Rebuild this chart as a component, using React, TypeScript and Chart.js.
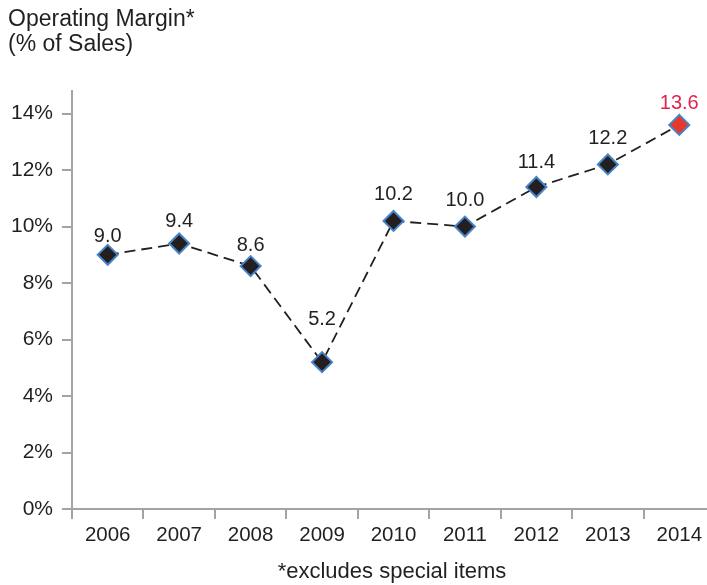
import React, { useEffect, useRef } from "react";
import { Chart, registerables } from "chart.js";

Chart.register(...registerables);

const years = ["2006", "2007", "2008", "2009", "2010", "2011", "2012", "2013", "2014"];
const margins = [9.0, 9.4, 8.6, 5.2, 10.2, 10.0, 11.4, 12.2, 13.6];
const yTicks = [0, 2, 4, 6, 8, 10, 12, 14];
const titleLines = ["Operating Margin*", "(% of Sales)"];
const footnote = "*excludes special items";

// label vertical offsets above each marker (style)
const labelOffsets = [20, 23.5, 22, 44.5, 28, 28, 26, 28, 23.5];

const DARK = "#231f20";
const AXIS = "#a3a3a3";
const BLUE = "#4684c6";
const RED_FILL = "#e8382b";
const RED_TEXT = "#e5224a";
const FONT = "'Liberation Sans', Arial, Helvetica, sans-serif";

export default function App() {
  const ref = useRef<HTMLCanvasElement | null>(null);

  useEffect(() => {
    document.body.style.margin = "0";
    document.body.style.overflow = "hidden";
    const canvas = ref.current;
    if (!canvas) return;
    const last = margins.length - 1;

    const textPlugin = {
      id: "texts",
      afterDatasetsDraw(chart: any) {
        const ctx = chart.ctx;
        ctx.save();
        ctx.fillStyle = DARK;
        ctx.font = `23px ${FONT}`;
        ctx.textAlign = "left";
        ctx.textBaseline = "alphabetic";
        ctx.fillText(titleLines[0], 8, 26);
        ctx.fillText(titleLines[1], 8, 51);
        ctx.font = `22px ${FONT}`;
        ctx.textAlign = "center";
        ctx.textBaseline = "middle";
        ctx.fillText(footnote, 392, 572);
        ctx.font = `20px ${FONT}`;
        ctx.textBaseline = "alphabetic";
        const meta = chart.getDatasetMeta(0);
        meta.data.forEach((pt: any, i: number) => {
          ctx.fillStyle = i === last ? RED_TEXT : DARK;
          ctx.fillText(margins[i].toFixed(1), pt.x, pt.y - labelOffsets[i] + 7.2);
        });
        ctx.restore();
      },
    };

    const chart = new Chart(canvas, {
      type: "line",
      data: {
        labels: years,
        datasets: [
          {
            data: margins,
            borderColor: DARK,
            borderWidth: 1.8,
            borderDash: [11, 6],
            tension: 0,
            pointStyle: "rectRot",
            pointRadius: 10,
            pointBorderWidth: 2,
            pointBorderColor: BLUE,
            pointBackgroundColor: margins.map((_, i) => (i === last ? RED_FILL : DARK)),
            fill: false,
          },
        ],
      },
      options: {
        animation: false,
        responsive: true,
        maintainAspectRatio: false,
        layout: { padding: { top: 91, bottom: 0, left: 0, right: 1 } },
        plugins: { legend: { display: false }, tooltip: { enabled: false }, title: { display: false } },
        scales: {
          x: {
            type: "category",
            offset: true,
            grid: {
              offset: true,
              drawOnChartArea: false,
              drawTicks: true,
              tickLength: 10,
              color: AXIS,
              lineWidth: 2,
            },
            border: { color: AXIS, width: 2 },
            ticks: {
              color: DARK,
              font: { family: FONT, size: 20.5 },
              padding: 4,
              maxRotation: 0,
              autoSkip: false,
            },
            afterFit(scale: any) {
              scale.height = 76;
            },
          },
          y: {
            min: 0,
            max: 14.8,
            grid: {
              drawOnChartArea: false,
              drawTicks: true,
              tickLength: 10,
              color: AXIS,
              lineWidth: 2,
            },
            border: { color: AXIS, width: 2 },
            ticks: {
              color: DARK,
              font: { family: FONT, size: 21 },
              padding: 9,
              callback: (v: any) => `${v}%`,
            },
            afterBuildTicks(axis: any) {
              axis.ticks = yTicks.map((v) => ({ value: v }));
            },
            afterFit(scale: any) {
              scale.width = 72;
            },
          },
        },
      },
      plugins: [textPlugin],
    } as any);

    return () => chart.destroy();
  }, []);

  return (
    <div style={{ position: "absolute", left: 0, top: 0, width: 707, height: 585, overflow: "hidden" }}>
      <div style={{ position: "relative", width: 727, height: 585 }}>
        <canvas ref={ref} />
      </div>
    </div>
  );
}
